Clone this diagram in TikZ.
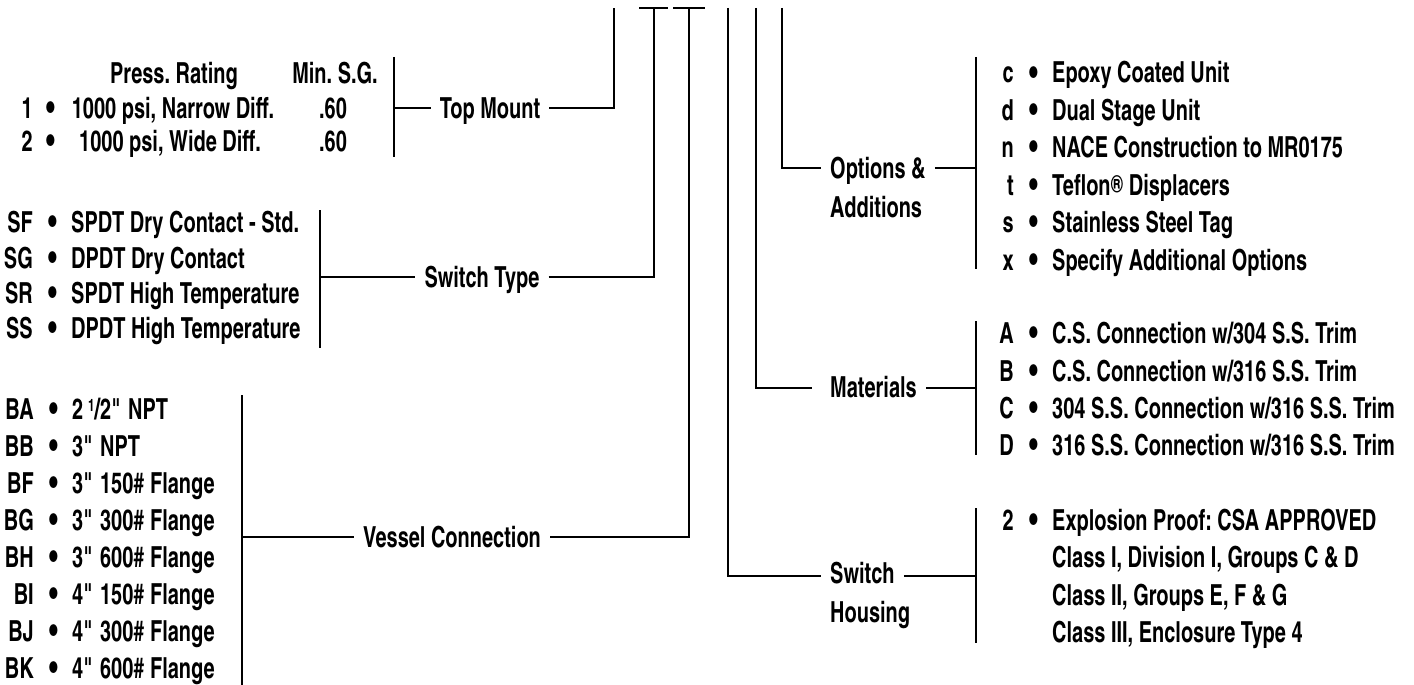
\documentclass[tikz,border=0pt]{standalone}
\usepackage{fontspec}
\IfFontExistsTF{texgyreheroscn-bold.otf}
 {\setmainfont{texgyreheroscn-bold.otf}[FakeStretch=0.84]}
 {\setmainfont{Liberation Sans Bold}[FakeStretch=0.70]}
\usetikzlibrary{calc}
\newcommand\fs{\fontsize{29}{32}\selectfont\frenchspacing}
\newcommand\bigbul{{\fontsize{36}{36}\selectfont\textbullet}}
\newcommand\dq{\textquotedbl}
\newcommand\itemrow[5]{%
  \node[codest] (#1c) at (#2,#3) {#4};
  \node[bulst] (#1b) at ({#2+20},{#3+2}) {\bigbul};
  \node[txtst] (#1) at ({#2+38},#3) {#5};}
\begin{document}
\begin{tikzpicture}[x=1pt,y=-1pt,
  every node/.style={inner sep=0pt, font=\fs},
  wire/.style={line width=1.8pt},
  lbl/.style={anchor=base, inner xsep=9pt},
  lblw/.style={anchor=base west, inner xsep=9pt},
  codest/.style={anchor=base east},
  bulst/.style={anchor=base},
  txtst/.style={anchor=base west},
  colst/.style={anchor=base}]
\useasboundingbox (0,0) rectangle (1414,685);

% ---------- top terminals ----------
\coordinate (t1) at (614,8);
\coordinate (t2) at (654,8);
\coordinate (t3) at (689,8);
\coordinate (t4) at (728,8);
\coordinate (t5) at (756,8);
\coordinate (t6) at (782,8);
\coordinate (b2l) at (639,8); \coordinate (b2r) at (668,8);
\coordinate (b3l) at (673,8); \coordinate (b3r) at (705,8);
\draw[wire] (b2l) -- (b2r);
\draw[wire] (b3l) -- (b3r);

% ---------- Top Mount ----------
\node[colst] (hdr1) at (174,84) {Press. Rating};
\node[colst] (hdr2) at (335,84) {Min. S.G.};
\node[codest] (r1c) at (33,118) {1};
\node[bulst] (r1b) at (51,120) {\bigbul};
\node[colst] (r1) at (173,118) {1000 psi, Narrow Diff.};
\node[colst] (r1v) at (333,118) {.60};
\node[codest] (r2c) at (33,151) {2};
\node[bulst] (r2b) at (51,153) {\bigbul};
\node[colst] (r2) at (170,151) {1000 psi, Wide Diff.};
\node[colst] (r2v) at (333,151) {.60};
\coordinate (tmbt) at (394,57);
\coordinate (tmbb) at (394,157);
\coordinate (tmbm) at (394,108);
\draw[wire] (tmbt) -- (tmbb);
\node[lbl] (tm) at (490,118) {Top Mount};
\draw[wire] (tmbm) -- (tmbm -| tm.west);
\draw[wire] (tm.east |- tmbm) -| (t1);

% ---------- Switch Type ----------
\itemrow{sf}{33}{232}{SF}{SPDT Dry Contact - Std.}
\itemrow{sg}{33}{268}{SG}{DPDT Dry Contact}
\itemrow{sr}{33}{303}{SR}{SPDT High Temperature}
\itemrow{ss}{33}{338}{SS}{DPDT High Temperature}
\coordinate (stbt) at (320,210);
\coordinate (stbb) at (320,348);
\coordinate (stbm) at (320,277);
\draw[wire] (stbt) -- (stbb);
\node[lbl] (st) at (482,287) {Switch Type};
\draw[wire] (stbm) -- (stbm -| st.west);
\draw[wire] (st.east |- stbm) -| (t2);

% ---------- Vessel Connection ----------
\itemrow{ba}{34}{419}{BA}{2\,\raisebox{8pt}{\fontsize{17}{17}\selectfont 1}/2\dq{} NPT}
\itemrow{bb}{34}{456}{BB}{3\dq{} NPT}
\itemrow{bf}{34}{493}{BF}{3\dq{} 150\# Flange}
\itemrow{bg}{34}{530}{BG}{3\dq{} 300\# Flange}
\itemrow{bh}{34}{567}{BH}{3\dq{} 600\# Flange}
\itemrow{bi}{34}{604}{BI}{4\dq{} 150\# Flange}
\itemrow{bj}{34}{641}{BJ}{4\dq{} 300\# Flange}
\itemrow{bk}{34}{678}{BK}{4\dq{} 600\# Flange}
\coordinate (vcbt) at (242,395);
\coordinate (vcbb) at (242,685);
\coordinate (vcbm) at (242,537);
\draw[wire] (vcbt) -- (vcbb);
\node[lbl] (vc) at (452,547) {Vessel Connection};
\draw[wire] (vcbm) -- (vcbm -| vc.west);
\draw[wire] (vc.east |- vcbm) -| (t3);

% ---------- Options & Additions ----------
\itemrow{oc}{1014}{83}{c}{Epoxy Coated Unit}
\itemrow{od}{1014}{120}{d}{Dual Stage Unit}
\itemrow{on}{1014}{157}{n}{NACE Construction to MR0175}
\itemrow{ot}{1014}{195}{t}{Teflon\raisebox{3pt}{\fontsize{25}{25}\selectfont ®} Displacers}
\itemrow{os}{1014}{232}{s}{Stainless Steel Tag}
\itemrow{ox}{1014}{270}{x}{Specify Additional Options}
\coordinate (oabt) at (976,57);
\coordinate (oabb) at (976,269);
\coordinate (oabm) at (976,168);
\coordinate (oaj) at (782,168);
\draw[wire] (oabt) -- (oabb);
\node[lblw] (oa1) at (821,178) {Options \&};
\node[txtst] (oa2) at (830,217) {Additions};
\draw[wire] (t6) -- (oaj) -- (oaj -| oa1.west);
\draw[wire] (oa1.east |- oabm) -- (oabm);

% ---------- Materials ----------
\itemrow{ma}{1014}{343}{A}{C.S. Connection w/304 S.S. Trim}
\itemrow{mb}{1014}{381}{B}{C.S. Connection w/316 S.S. Trim}
\itemrow{mc}{1014}{418}{C}{304 S.S. Connection w/316 S.S. Trim}
\itemrow{md}{1014}{455}{D}{316 S.S. Connection w/316 S.S. Trim}
\coordinate (mbt) at (976,321);
\coordinate (mbb) at (976,455);
\coordinate (mbm) at (976,388);
\coordinate (mj) at (756,388);
\draw[wire] (mbt) -- (mbb);
\node[lblw] (mat) at (821,397) {Materials};
\draw[wire,shorten >=9pt] (t5) -- (mj) -- (mj -| mat.west);
\draw[wire] (mat.east |- mbm) -- (mbm);

% ---------- Switch Housing ----------
\itemrow{h2}{1014}{530}{2}{Explosion Proof: CSA APPROVED}
\node[txtst] (h3) at (1052,567) {Class I, Division I, Groups C \& D};
\node[txtst] (h4) at (1052,605) {Class II, Groups E, F \& G};
\node[txtst] (h5) at (1052,642) {Class III, Enclosure Type 4};
\coordinate (hbt) at (976,508);
\coordinate (hbb) at (976,643);
\coordinate (hbm) at (976,576);
\coordinate (hj) at (728,576);
\draw[wire] (hbt) -- (hbb);
\node[lblw] (sh1) at (821,583) {Switch};
\node[txtst] (sh2) at (830,622) {Housing};
\draw[wire] (t4) -- (hj) -- (hj -| sh1.west);
\draw[wire] (sh1.east |- hbm) -- (hbm);
\end{tikzpicture}
\end{document}
